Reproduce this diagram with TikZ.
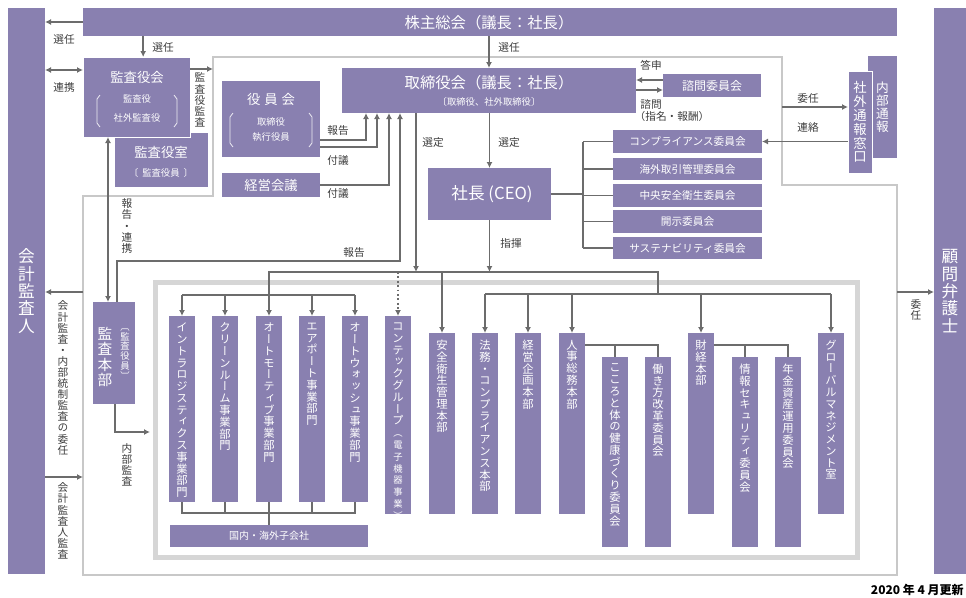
\documentclass[tikz,border=0pt]{standalone}
\usepackage{fontspec}
\setmainfont{Noto Sans CJK JP}
\newfontfamily\tatefont[RawFeature=+vert]{Noto Sans CJK JP}
\usetikzlibrary{fit,arrows.meta}

\definecolor{murasaki}{RGB}{137,128,176}
\definecolor{senline}{RGB}{108,108,108}
\definecolor{wakuline}{RGB}{200,200,200}
\definecolor{futowaku}{RGB}{214,214,214}
\definecolor{mojiiro}{RGB}{60,60,60}

% vertical text, one glyph per line
\makeatletter
\def\tate@end{}
\def\tate@endm{\tate@end}
\newcommand\tate[1]{\vbox{\tatefont\baselineskip=1.04em\lineskiplimit=-\maxdimen\lineskip=0pt\tate@a#1\tate@end}}
\def\tate@a#1{\def\tate@c{#1}\ifx\tate@c\tate@endm\else\hbox to 1.1em{\hss#1\hss}\expandafter\tate@a\fi}
\makeatother

\tikzset{
  pbox/.style={fill=murasaki, inner sep=0pt, outer sep=0pt},
  wtext/.style={text=white, inner sep=0pt},
  ltext/.style={text=mojiiro, inner sep=0pt, font=\fontsize{8}{9}\selectfont},
  sen/.style={draw=senline, line width=1.3pt},
  waku/.style={draw=wakuline, line width=1pt},
  kakko/.style={draw=white, line width=0.6pt, opacity=0.85},
}

% column box: name, x, top, bottom, text
\newcommand\tatebox[5]{%
  \node[pbox, fit={(#2-13,#3) (#2+13,#4)}] (#1) {};
  \node[wtext, anchor=north, font=\fontsize{8.5}{9}\selectfont] (#1-t) at ([yshift=-5pt]#1.north) {\tate{#5}};}

\begin{document}
\begin{tikzpicture}[>={Latex[length=4.5pt,width=4.5pt]}, x=0.75pt, y=-0.75pt]
        \useasboundingbox (0,0) rectangle (966,597);
        %frames
        \draw[waku] (213,57) -- (782,57) -- (782,185) -- (897,185) -- (897,575) -- (83,575) -- (83,196) -- (213,196) -- cycle;
        \draw[draw=futowaku, line width=3.75pt] (155.5,282.5) rectangle (857.5,557.5);
        \coordinate (waku-kansa) at (213,69);
        \coordinate (waku-inin) at (782,107);
        \coordinate (waku-komon) at (897,292);
        \coordinate (waku-kaikei1) at (83,292);
        \coordinate (waku-kaikei2) at (83,477);
        \coordinate (naibu-end) at (150,432);

        %side columns and top bar
        \node[pbox, fit={(8,8) (45,574)}] (kaikei) {};
        \node[wtext, font=\fontsize{12.5}{13}\selectfont] (kaikei-t) at (kaikei) {\tate{会計監査人}};
        \node[pbox, fit={(934,8) (966,574)}] (komon) {};
        \node[wtext, font=\fontsize{12.5}{13}\selectfont] (komon-t) at (komon) {\tate{顧問弁護士}};
        \node[pbox, fit={(83,8) (897,36)}] (kabunushi) {};
        \node[wtext, font=\fontsize{11.5}{13}\selectfont] (kabunushi-t) at (489,23) {株主総会（議長：社長）};

        %auditors
        \node[pbox, fit={(115,133) (208,187)}] (kansashitsu) {};
        \node[wtext, font=\fontsize{10}{12}\selectfont] (kansashitsu-t) at (161,152) {監査役室};
        \node[wtext, font=\fontsize{7}{9}\selectfont] (kansashitsu-s) at (161,173) {〔\hspace{3pt}監査役員\hspace{3pt}〕};
        \node[pbox, fit={(83,57) (190,137)}, draw=white, line width=0.6pt] (kansayakukai) {};
        \node[wtext, font=\fontsize{10}{12}\selectfont] (kansayakukai-t) at (137,77) {監査役会};
        \node[wtext, font=\fontsize{7}{14}\selectfont, align=center] (kansayakukai-s) at (137,108.5) {監査役\\社外監査役};
        \draw[kakko] (100,95) -- (97,99) -- (97,123) -- (100,127);
        \draw[kakko] (174,95) -- (177,99) -- (177,123) -- (174,127);
        \node[pbox, fit={(93,302) (135,404)}] (kansahonbu) {};
        \node[wtext, font=\fontsize{11}{12}\selectfont] (kansahonbu-t) at (105,357) {\tate{監査本部}};
        \node[wtext, font=\fontsize{7}{8}\selectfont] (kansahonbu-s) at (125,354) {\tate{〔監査役員〕}};

        %board
        \node[pbox, fit={(222,81) (320,157)}] (yakuinkai) {};
        \node[wtext, font=\fontsize{10}{12}\selectfont] (yakuinkai-t) at (271,99) {役\hspace{3pt}員\hspace{3pt}会};
        \node[wtext, font=\fontsize{7}{11}\selectfont, align=center] (yakuinkai-s) at (271,129.5) {取締役\\執行役員};
        \draw[kakko] (233,113) -- (230,117) -- (230,143) -- (233,147);
        \draw[kakko] (309,113) -- (312,117) -- (312,143) -- (309,147);
        \node[pbox, fit={(222,173) (320,197)}] (keiei) {};
        \node[wtext, font=\fontsize{10}{12}\selectfont] (keiei-t) at (keiei) {経営会議};
        \node[pbox, fit={(342,68) (636,113)}] (torishimari) {};
        \node[wtext, font=\fontsize{11.5}{13}\selectfont] (torishimari-t) at (489,83) {取締役会（議長：社長）};
        \node[wtext, font=\fontsize{7}{9}\selectfont] (torishimari-s) at (489,102) {〔取締役、社外取締役〕};
        \node[pbox, fit={(663,74) (761,97)}] (shimon) {};
        \node[wtext, font=\fontsize{9}{11}\selectfont] (shimon-t) at (shimon) {諮問委員会};
        \node[pbox, fit={(428,168) (551,220)}] (ceo) {};
        \node[wtext, font=\fontsize{12.5}{14}\selectfont] (ceo-t) at (492,194) {社長 (CEO)};

        %committees
        \foreach \n/\ya/\yb/\t in {comp/130/153/コンプライアンス委員会, kaigai/158/180/海外取引管理委員会,
            chuo/184/207/中央安全衛生委員会, kaiji/210/233/開示委員会, sustain/237/259/サステナビリティ委員会}
        {
        \node[pbox, fit={(613,\ya) (762,\yb)}] (\n) {};
        \node[wtext, font=\fontsize{8}{9}\selectfont] (\n-t) at (\n) {\t};
        }

        %whistleblowing
        \node[pbox, fit={(868,56) (897,158)}] (naibu) {};
        \node[wtext, font=\fontsize{9.5}{11}\selectfont] (naibu-t) at (naibu) {\tate{内部通報}};
        \node[pbox, fit={(848,71) (872,173)}, draw=white, line width=0.6pt] (shagai) {};
        \node[wtext, font=\fontsize{10}{11}\selectfont] (shagai-t) at (shagai) {\tate{社外通報窓口}};

        %divisions
        \tatebox{intra}{182}{316}{502}{イントラロジスティクス事業部門}
        \tatebox{clean}{225}{316}{502}{クリーンルーム事業部門}
        \tatebox{auto}{269}{316}{502}{オートモーティブ事業部門}
        \tatebox{airport}{312}{316}{502}{エアポート事業部門}
        \tatebox{wash}{355}{316}{502}{オートウォッシュ事業部門}
        \tatebox{contec}{398}{316}{514}{コンテックグループ{\scriptsize（}{\scriptsize 電}{\scriptsize 子}{\scriptsize 機}{\scriptsize 器}{\scriptsize 事}{\scriptsize 業}{\scriptsize ）}}
        \tatebox{anzen}{442}{333}{514}{安全衛生管理本部}
        \tatebox{houmu}{485}{333}{514}{法務・コンプライアンス本部}
        \tatebox{kikaku}{528}{333}{514}{経営企画本部}
        \tatebox{jinji}{572}{333}{514}{人事総務本部}
        \tatebox{kokoro}{615}{357}{547}{こころと体の健康づくり委員会}
        \tatebox{hataraki}{658}{357}{547}{働き方改革委員会}
        \tatebox{zaikei}{701}{333}{514}{財経本部}
        \tatebox{joho}{745}{357}{547}{情報セキュリティ委員会}
        \tatebox{nenkin}{788}{357}{547}{年金資産運用委員会}
        \tatebox{global}{831}{333}{514}{グローバルマネジメント室}
        \node[pbox, fit={(170,525) (368,547)}] (kogaisha) {};
        \node[wtext, font=\fontsize{7.5}{9}\selectfont] (kogaisha-t) at (kogaisha) {国内・海外子会社};

        %connectors, top
        \draw[sen,->] (kabunushi.west) -- (kabunushi.west -| kaikei.east);
        \draw[sen,<->] (kaikei.east |- 0,70) -- (kansayakukai.west |- 0,70);
        \draw[sen,->] ([xshift=5pt]kansayakukai.north |- kabunushi.south) -- ([xshift=5pt]kansayakukai.north);
        \draw[sen,->] (kansayakukai.east |- waku-kansa) -- (waku-kansa);
        \draw[sen,->] (kabunushi.south -| torishimari.north) -- (torishimari.north);
        \draw[sen,->] (shimon.west |- 0,80) -- (torishimari.east |- 0,80);
        \draw[sen,->] (torishimari.east |- 0,90) -- (shimon.west |- 0,90);
        \draw[sen,->] (waku-inin) -- (shagai.west |- waku-inin);
        \draw[sen,->] (shagai.west |- comp) -- (comp.east);
        \draw[sen,->] (waku-komon) -- (komon.west |- waku-komon);
        %reports to the board
        \draw[sen,->] (yakuinkai.east |- 0,140) -| (torishimari.south -| 366,0);
        \draw[sen,->] (yakuinkai.east |- 0,147) -| (torishimari.south -| 377,0);
        \draw[sen,->] (keiei.east) -| (torishimari.south -| 389,0);
        \draw[sen,->] (kansahonbu.north -| 117,0) -- (117,261) -| (torishimari.south -| 400,0);
        \draw[sen,<->] (kansayakukai.south -| 108,0) -- (kansahonbu.north -| 108,0);
        \draw[sen,->] (kansahonbu.south -| 115,0) |- (naibu-end);
        \draw[sen,->] (waku-kaikei1) -- (kaikei.east |- waku-kaikei1);
        \draw[sen,->] (kaikei.east |- waku-kaikei2) -- (waku-kaikei2);
        %board and CEO
        \draw[sen,->] (torishimari.south -| ceo.north) -- (ceo.north);
        \draw[sen,->] (torishimari.south -| 416,0) -- (416,272);
        \draw[sen,->] (ceo.south) -- (ceo.south |- 0,272);
        \draw[sen] (ceo.east) -- (ceo.east -| 583,0);
        \draw[sen] (583,0 |- comp) -- (583,0 |- sustain);
        \foreach \n in {comp,kaigai,chuo,kaiji,sustain}
        \draw[sen] (583,0 |- \n) -- (\n.west);
        %main bus
        \draw[sen] (auto |- 0,295) -- (auto |- 0,272) -- (658,272) -- (658,294);
        \draw[sen] (intra |- 0,295) -- (wash |- 0,295);
        \foreach \n in {intra,clean,auto,airport,wash}
        \draw[sen,->] (\n |- 0,295) -- (\n.north);
        \draw[sen,dotted,->] (contec |- 0,272) -- (contec.north);
        \draw[sen,->] (anzen |- 0,272) -- (anzen.north);
        \draw[sen] (houmu |- 0,294) -- (global |- 0,294);
        \foreach \n in {houmu,kikaku,jinji,zaikei,global}
        \draw[sen,->] (\n |- 0,294) -- (\n.north);
        \draw[sen] (jinji.east |- 0,345) -- (hataraki |- 0,345) -- (hataraki.north);
        \draw[sen] (kokoro |- 0,345) -- (kokoro.north);
        \draw[sen] (zaikei.east |- 0,345) -- (nenkin |- 0,345) -- (nenkin.north);
        \draw[sen] (joho |- 0,345) -- (joho.north);
        \draw[sen] (intra.south) -- (intra |- 0,513) -- (wash |- 0,513) -- (wash.south);
        \foreach \n in {clean,airport}
        \draw[sen] (\n.south) -- (\n |- 0,513);
        \draw[sen] (auto.south) -- (kogaisha.north);

        %labels
        \node[ltext] (l-senin1) at (64,39) {選任};
        \node[ltext] (l-senin2) at (163,47) {選任};
        \node[ltext] (l-renkei) at (64,87) {連携};
        \node[ltext] (l-kansa) at (200,100) {\tate{監査役監査}};
        \node[ltext] (l-senin3) at (509,47) {選任};
        \node[ltext] (l-toshin) at (651,65) {答申};
        \node[ltext] (l-shimon) at (651,104) {諮問};
        \node[ltext] (l-shimei) at (672,116) {（指名・報酬）};
        \node[ltext] (l-inin1) at (808,98) {委任};
        \node[ltext] (l-renraku) at (808,127) {連絡};
        \node[ltext] (l-houkoku1) at (338,130) {報告};
        \node[ltext] (l-fugi1) at (338,160) {付議};
        \node[ltext] (l-fugi2) at (338,193) {付議};
        \node[ltext] (l-sentei1) at (433,142) {選定};
        \node[ltext] (l-sentei2) at (509,142) {選定};
        \node[ltext] (l-shiki) at (511,243) {指揮};
        \node[ltext] (l-houkoku2) at (354,252) {報告};
        \node[ltext] (l-houren) at (127,226) {\tate{報告・連携}};
        \node[ltext] (l-itaku) at (63,378) {\tate{会計監査・内部統制監査の委任}};
        \node[ltext] (l-kansajin) at (63,521) {\tate{会計監査人監査}};
        \node[ltext] (l-naibu) at (127,465) {\tate{内部監査}};
        \node[ltext] (l-inin2) at (916,310) {\tate{委任}};
        \node[ltext, text=black, anchor=east, font=\fontsize{9}{11}\selectfont] (l-date) at (964,590) {\bfseries 2020 年 4 月更新};
    \end{tikzpicture}
\end{document}
